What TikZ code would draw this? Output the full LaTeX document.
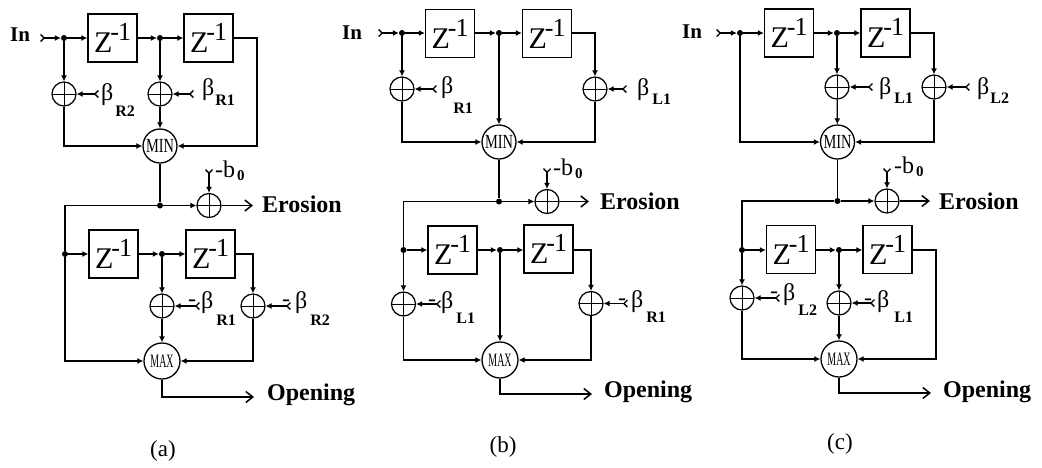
\documentclass[tikz,border=0pt]{standalone}
\usepackage{fontspec}
\usepackage{graphicx}
\setmainfont{Liberation Serif}
\usetikzlibrary{arrows.meta}
\newcommand{\zinv}{{\fontsize{30}{30}\selectfont Z\kern-2pt\raisebox{12pt}{\fontsize{26}{26}\selectfont -\kern-1pt 1}}}
% name, beta x, baseline y, kern before subscript, drop, subscript
\newcommand{\blab}[6]{\node[betalab] (#1) at (#2,#3) {β\kern#4pt\lower#5pt\hbox{\fontsize{16}{16}\selectfont\bfseries #6}};}
\newcommand{\mblab}[6]{\node[betalab] (#1) at (#2,#3) {\raisebox{1.5pt}{-}\kern5pt β\kern#4pt\lower#5pt\hbox{\fontsize{16}{16}\selectfont\bfseries #6}};}
\newcommand{\bzero}[3]{\node[betalab,font=\fontsize{24}{24}\selectfont] (#1) at (#2,#3) {-b\kern2pt\lower3pt\hbox{\fontsize{15}{15}\selectfont\bfseries 0}};}
\tikzset{
  wire/.style={line width=1.25pt,black},
  flow/.style={wire,-{Latex[length=6pt,width=6pt]}},
  feed/.style={wire,{Straight Barb[reversed,length=3.5pt,width=7pt]}-{Latex[length=6pt,width=6pt]}},
  outflow/.style={wire,-{Straight Barb[length=7pt,width=11pt,line width=1.5pt]}},
  delay/.style={draw,line width=1.3pt,minimum width=49pt,minimum height=48pt,inner sep=0pt,fill=white},
  adder/.style={draw,circle,line width=1.25pt,minimum size=24pt,inner sep=0pt,
    path picture={\draw[line width=1pt] (path picture bounding box.north)--(path picture bounding box.south)
      (path picture bounding box.west)--(path picture bounding box.east);}},
  cmpmin/.style={draw,circle,line width=1.3pt,minimum size=34pt,inner sep=0pt},
  cmpmax/.style={draw,circle,line width=1.3pt,minimum size=36pt,inner sep=0pt},
  dot/.style={circle,fill=black,minimum size=6pt,inner sep=0pt},
  betalab/.style={anchor=base west,inner sep=0pt,font=\fontsize{24}{24}\selectfont},
  boldlab/.style={anchor=base west,inner sep=0pt,font=\fontsize{24}{24}\selectfont\bfseries},
  inlab/.style={anchor=base west,inner sep=0pt,font=\fontsize{21}{21}\selectfont\bfseries},
  caption/.style={inner sep=0pt,font=\fontsize{23}{23}\selectfont},
}
\newcommand{\mintxt}{{\fontsize{20}{20}\selectfont\scalebox{.72}[1]{MIN}}}
\newcommand{\maxtxt}{{\fontsize{19}{19}\selectfont\scalebox{.52}[1]{MAX}}}
\begin{document}
\begin{tikzpicture}[x=1pt,y=-1pt]
\useasboundingbox (0,0) rectangle (1042,467);
% ---------- (a) ----------
\node[inlab] (aIn) at (10,41) {In};
\coordinate (aS) at (40,38);
\node[dot] (aj1) at (64,38) {};
\node[dot] (aj2) at (160,38) {};
\node[delay] (ab1) at (112.5,38) {\zinv};
\node[delay] (ab2) at (208.5,38) {\zinv};
\node[adder] (aa1) at (64,94) {};
\node[adder] (aa2) at (160,94) {};
\node[cmpmin] (amin) at (160,146) {\mintxt};
\coordinate (ar) at (257,146);
\coordinate (af1) at (99,94);
\coordinate (af2) at (194,94);
\blab{ab1l}{101}{100}{2}{16}{R2}
\blab{ab2l}{202}{95}{1}{10}{R1}
\draw[feed] (aS) -- (aj1);
\draw[flow] (aj1) -- (ab1);
\draw[flow] (ab1) -- (aj2);
\draw[flow] (aj2) -- (ab2);
\draw[flow] (aj1) -- (aa1);
\draw[flow] (aj2) -- (aa2);
\draw[feed] (af1) -- (aa1);
\draw[feed] (af2) -- (aa2);
\draw[flow] (aa2) -- (amin);
\draw[flow] (aa1) |- (amin);
\draw[flow] (ab2) -| (ar) -- (amin);
\node[dot] (aj3) at (160,205.5) {};
\node[adder] (ae) at (209,205.5) {};
\coordinate (abf) at (209,169);
\bzero{ab0}{215}{177}
\coordinate (aeo) at (253,205.5);
\node[boldlab] (aer) at (262,212) {Erosion};
\draw[wire] (amin) -- (aj3);
\draw[flow] (aj3) -- (ae);
\draw[feed] (abf) -- (ae);
\draw[outflow] (ae) -- (aeo);
\node[dot] (aj4) at (65,254) {};
\node[dot] (aj5) at (162,254) {};
\node[delay] (ab3) at (113.5,254) {\zinv};
\node[delay] (ab4) at (210.5,254) {\zinv};
\node[adder] (aa3) at (162,306) {};
\node[adder] (aa4) at (253,306) {};
\node[cmpmax] (amax) at (162,361) {\maxtxt};
\coordinate (af3) at (200,306);
\coordinate (af4) at (291,306);
\mblab{ab3l}{188}{308}{3}{17}{R1}
\mblab{ab4l}{282}{308}{3}{17}{R2}
\coordinate (ao1) at (162,397);
\coordinate (ao2) at (254,397);
\node[boldlab] (aop) at (267,400) {Opening};
\node[caption] (acap) at (163,451) {(a)};
\draw[wire] (aj3) -| (aj4);
\draw[flow] (aj4) -- (ab3);
\draw[flow] (ab3) -- (aj5);
\draw[flow] (aj5) -- (ab4);
\draw[flow] (aj5) -- (aa3);
\draw[flow] (ab4) -| (aa4);
\draw[feed] (af3) -- (aa3);
\draw[feed] (af4) -- (aa4);
\draw[flow] (aa3) -- (amax);
\draw[flow] (aj4) |- (amax);
\draw[flow] (aa4) |- (amax);
\draw[outflow] (amax) -- (ao1) -- (ao2);
% ---------- (b) ----------
\node[inlab] (bIn) at (342,39) {In};
\coordinate (bS) at (378,33);
\node[dot] (bj1) at (402,33) {};
\node[dot] (bj2) at (499,33) {};
\node[delay] (bb1) at (450,33.5) {\zinv};
\node[delay] (bb2) at (547,33.5) {\zinv};
\node[adder] (ba1) at (402,89) {};
\node[adder] (ba2) at (595,89) {};
\node[cmpmin] (bmin) at (499,142) {\mintxt};
\coordinate (bf1) at (437,89);
\coordinate (bf2) at (627,89);
\blab{bb1l}{441}{93}{0}{20}{R1}
\blab{bb2l}{637}{95}{3}{9}{L1}
\draw[feed] (bS) -- (bj1);
\draw[flow] (bj1) -- (bb1.west |- bj1);
\draw[flow] (bb1.east |- bj2) -- (bj2);
\draw[flow] (bj2) -- (bb2.west |- bj2);
\draw[flow] (bj1) -- (ba1);
\draw[flow] (bb2.east |- bj2) -| (ba2);
\draw[feed] (bf1) -- (ba1);
\draw[feed] (bf2) -- (ba2);
\draw[flow] (bj2) -- (bmin);
\draw[flow] (ba1) |- (bmin);
\draw[flow] (ba2) |- (bmin);
\node[dot] (bj3) at (499,201.5) {};
\node[adder] (be) at (547,201.5) {};
\coordinate (bbf) at (547,168);
\bzero{bb0}{553}{175}
\coordinate (beo) at (589,201.5);
\node[boldlab] (ber) at (600,209) {Erosion};
\draw[wire] (bmin) -- (bj3);
\draw[flow] (bj3) -- (be);
\draw[feed] (bbf) -- (be);
\draw[outflow] (be) -- (beo);
\node[dot] (bj4) at (403.5,250) {};
\node[dot] (bj5) at (500,250) {};
\node[delay] (bb3) at (452.5,250) {\zinv};
\node[delay] (bb4) at (548.5,249) {\zinv};
\node[adder] (ba3) at (403.5,304) {};
\node[adder] (ba4) at (591,303.5) {};
\node[cmpmax] (bmax) at (500,360) {\maxtxt};
\coordinate (bf3) at (441,304);
\coordinate (bf4) at (628,303.5);
\mblab{bb3l}{428}{308}{3}{15}{L1}
\mblab{bb4l}{618}{307}{3}{15}{R1}
\coordinate (bo1) at (500,394);
\coordinate (bo2) at (592,394);
\node[boldlab] (bop) at (604,397) {Opening};
\node[caption] (bcap) at (503,447) {(b)};
\draw[wire] (bj3) -| (bj4);
\draw[flow] (bj4) -- (bb3.west |- bj4);
\draw[flow] (bb3.east |- bj5) -- (bj5);
\draw[flow] (bj5) -- (bb4.west |- bj5);
\draw[flow] (bj4) -- (ba3);
\draw[flow] (bb4.east |- bj5) -| (ba4);
\draw[feed] (bf3) -- (ba3);
\draw[feed] (bf4) -- (ba4);
\draw[flow] (bj5) -- (bmax);
\draw[flow] (ba3) |- (bmax);
\draw[flow] (ba4) |- (bmax);
\draw[outflow] (bmax) -- (bo1) -- (bo2);
% ---------- (c) ----------
\node[inlab] (cIn) at (682,38) {In};
\coordinate (cS) at (716,33);
\node[dot] (cj1) at (740,33) {};
\node[dot] (cj2) at (837,33) {};
\node[delay] (cb1) at (789,33) {\zinv};
\node[delay] (cb2) at (885.5,33) {\zinv};
\node[adder] (ca1) at (837,87) {};
\node[adder] (ca2) at (934,87) {};
\node[cmpmin] (cmin) at (837.5,142) {\mintxt};
\coordinate (cf1) at (873,87);
\coordinate (cf2) at (970,87);
\blab{cb1l}{879}{94}{3}{9}{L1}
\blab{cb2l}{977}{94}{1}{9}{L2}
\draw[feed] (cS) -- (cj1);
\draw[flow] (cj1) -- (cb1);
\draw[flow] (cb1) -- (cj2);
\draw[flow] (cj2) -- (cb2);
\draw[flow] (cj2) -- (ca1);
\draw[flow] (cb2) -| (ca2);
\draw[feed] (cf1) -- (ca1);
\draw[feed] (cf2) -- (ca2);
\draw[flow] (ca1) -- (cmin);
\draw[flow] (cj1) |- (cmin);
\draw[flow] (ca2) |- (cmin);
\node[dot] (cj3) at (837.5,201) {};
\node[adder] (ce) at (887,201) {};
\coordinate (cbf) at (887,168);
\bzero{cb0}{894}{173}
\coordinate (ceo) at (930,201);
\node[boldlab] (cer) at (939,209) {Erosion};
\draw[wire] (cmin) -- (cj3);
\draw[flow] (cj3) -- (ce);
\draw[feed] (cbf) -- (ce);
\draw[outflow] (ce) -- (ceo);
\node[dot] (cj4) at (742,250) {};
\node[dot] (cj5) at (839,250) {};
\node[delay] (cb3) at (791,249.5) {\zinv};
\node[delay] (cb4) at (887.5,249.5) {\zinv};
\node[adder] (ca3) at (742,298) {};
\node[adder] (ca4) at (839,303) {};
\node[cmpmax] (cmax) at (839,359) {\maxtxt};
\coordinate (cr) at (936,359);
\coordinate (cf3) at (780,298);
\coordinate (cf4) at (875,303);
\mblab{cb3l}{770}{300}{3}{15}{L2}
\mblab{cb4l}{864}{307}{5}{15}{L1}
\coordinate (co1) at (839,393);
\coordinate (co2) at (931,393);
\node[boldlab] (cop) at (943,397) {Opening};
\node[caption] (ccap) at (840,444) {(c)};
\draw[wire] (cj3) -| (cj4);
\draw[flow] (cj4) -- (cb3.west |- cj4);
\draw[flow] (cb3.east |- cj5) -- (cj5);
\draw[flow] (cj5) -- (cb4.west |- cj5);
\draw[flow] (cj4) -- (ca3);
\draw[flow] (cj5) -- (ca4);
\draw[feed] (cf3) -- (ca3);
\draw[feed] (cf4) -- (ca4);
\draw[flow] (ca4) -- (cmax);
\draw[flow] (ca3) |- (cmax);
\draw[flow] (cb4.east |- cj5) -| (cr) -- (cmax);
\draw[outflow] (cmax) -- (co1) -- (co2);
\end{tikzpicture}
\end{document}
